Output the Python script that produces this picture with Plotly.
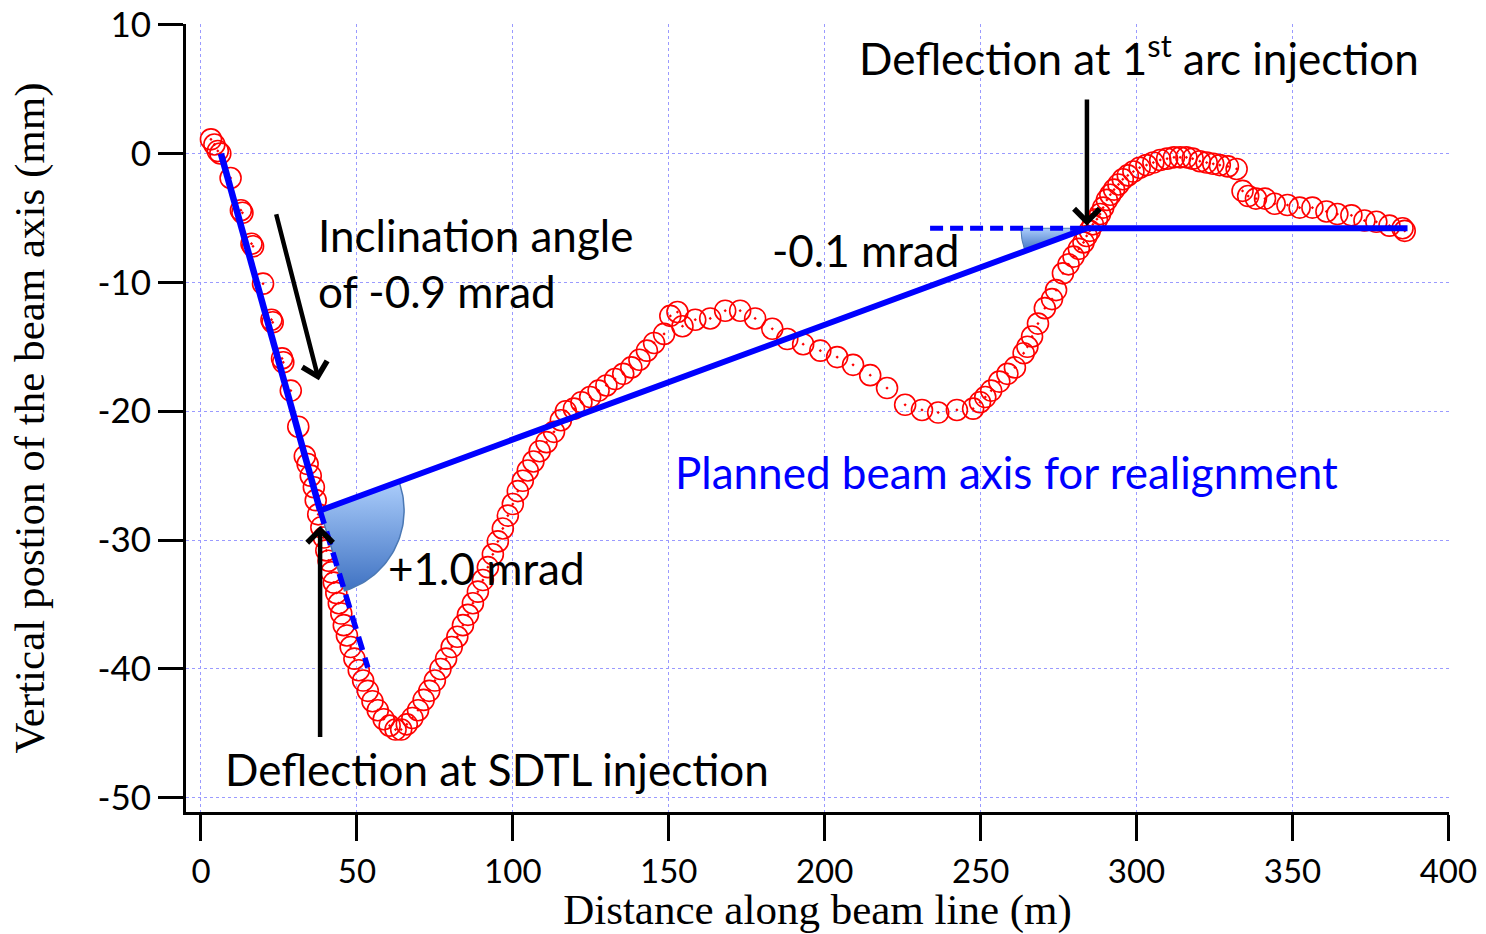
import math
import plotly.graph_objects as go

# ---------------- data ----------------
dist_m = [3.2, 4.3, 5.4, 6.2, 9.5, 12.8, 13.3, 16.2, 16.7, 19.9, 22.6, 23.0, 26.0, 26.4, 28.8,
          31.2, 33.3, 34.2, 35.2, 36.2, 36.8, 37.6, 38.6, 39.4, 40.2, 40.9, 41.8, 42.6, 43.4,
          44.2, 45.0, 45.8, 46.8, 48.0, 49.2, 50.6, 52.0, 53.5, 55.0, 56.7, 58.6, 60.5, 62.4,
          64.2, 66.0, 67.8, 69.6, 71.4, 73.2, 75.0, 76.8, 78.6, 80.4, 82.2, 84.0, 85.6, 87.2,
          88.8, 90.4, 92.0, 93.6, 95.2, 96.8, 98.4, 100.0, 101.6, 103.2, 104.8, 106.6, 108.6,
          110.8, 113.2, 115.4, 117.0, 119.6, 122.0, 124.8, 127.5, 130.0, 132.8, 135.4, 138.0,
          140.6, 143.0, 145.3, 148.5, 150.5, 152.8, 154.4, 158.5, 163.3, 168.1, 172.9, 177.7,
          183.2, 188.0, 193.1, 198.6, 204.0, 209.1, 214.6, 220.0, 225.8, 231.2, 236.4, 242.4,
          247.6, 249.8, 251.5, 253.4, 256.0, 258.6, 261.0, 263.8, 265.0, 266.5, 268.4, 270.6,
          272.9, 274.2, 276.4, 278.2, 279.8, 281.5, 283.0, 284.0, 285.0, 286.0, 287.3, 288.3,
          289.3, 290.5, 291.6, 292.8, 294.2, 295.6, 297.2, 299.0, 301.0, 303.2, 305.4, 307.6,
          309.8, 312.0, 314.0, 316.0, 318.0, 320.3, 322.5, 324.6, 326.7, 329.3, 332.1, 334.0,
          335.8, 338.3, 341.2, 344.3, 348.4, 352.3, 356.4, 360.9, 364.4, 368.9, 373.1, 376.9,
          381.1, 385.3, 386.0]
vert_mm = [1.1, 0.7, 0.2, 0.0, -1.9, -4.4, -4.6, -7.0, -7.2, -10.1, -12.9, -13.1, -15.9, -16.2, -18.4,
           -21.2, -23.5, -24.1, -25.0, -25.9, -26.9, -28.0, -29.0, -29.8, -30.8, -31.6, -32.5, -33.3, -34.1,
           -34.9, -35.7, -36.6, -37.4, -38.3, -39.2, -40.1, -40.9, -41.7, -42.5, -43.2, -43.9, -44.4, -44.7,
           -44.7, -44.3, -43.8, -43.2, -42.4, -41.7, -40.9, -40.0, -39.2, -38.3, -37.5, -36.6, -35.8, -34.9,
           -34.0, -33.1, -32.1, -31.1, -30.1, -29.1, -28.1, -27.2, -26.2, -25.4, -24.6, -23.9, -23.1,
           -22.4, -21.6, -20.7, -20.0, -19.8, -19.3, -18.9, -18.4, -18.0, -17.5, -17.1, -16.6,
           -16.0, -15.3, -14.7, -14.0, -12.6, -12.3, -13.4, -12.9, -12.8, -12.2, -12.2, -12.8,
           -13.6, -14.4, -14.8, -15.3, -15.8, -16.4, -17.2, -18.2, -19.5, -19.9, -20.1, -19.9,
           -19.8, -19.3, -18.9, -18.4, -17.7, -17.1, -16.6, -15.5, -15.0, -14.2, -13.2, -12.0,
           -11.3, -10.6, -9.3, -8.6, -8.0, -7.4, -6.9, -6.4, -6.0, -5.5, -5.1, -4.7,
           -4.2, -3.6, -3.2, -2.8, -2.4, -2.0, -1.7, -1.4, -1.1, -0.9, -0.7, -0.5,
           -0.4, -0.3, -0.3, -0.3, -0.4, -0.6, -0.7, -0.8, -0.9, -1.0, -1.2, -2.9,
           -3.3, -3.5, -3.5, -3.9, -4.0, -4.2, -4.2, -4.5, -4.7, -4.8, -5.2, -5.3,
           -5.6, -5.8, -6.0]

# blue beam-axis lines
incline_x = [6.4, 38.2]
incline_y = [0.0, -27.7]
ext_x = [38.2, 53.5]
ext_y = [-27.7, -39.9]
planned_x = [38.2, 284.1, 386.9]
planned_y = [-27.7, -5.8, -5.8]
ref_x = [233.8, 284.1]
ref_y = [-5.8, -5.8]

x_ticks = [0, 50, 100, 150, 200, 250, 300, 350, 400]
x_tick_labels = ["0", "50", "100", "150", "200", "250", "300", "350", "400"]
y_ticks = [-50, -40, -30, -20, -10, 0, 10]
y_tick_labels = ["-50", "-40", "-30", "-20", "-10", "0", "10"]

# ---------------- layout constants ----------------
W, H = 1486, 934
ML, MR, MT, MB = 186, 37, 24, 122
XR = [-4.8, 400.2]
YR = [-51.1, 10.05]
SX = (W - ML - MR) / (XR[1] - XR[0])
SY = (H - MT - MB) / (YR[1] - YR[0])

TXT = "Lato"
SERIF = "Liberation Serif"
BLUE = "#0000ff"


def sector(cx, cy, r_px, a0, a1, n=48):
    xs, ys = [cx], [cy]
    for i in range(n + 1):
        a = a0 + (a1 - a0) * i / n
        xs.append(cx + r_px * math.cos(a) / SX)
        ys.append(cy + r_px * math.sin(a) / SY)
    xs.append(cx)
    ys.append(cy)
    return xs, ys


def px_angle(x0, y0, x1, y1):
    return math.atan2((y1 - y0) * SY, (x1 - x0) * SX)


fig = go.Figure()

# measured beam positions
fig.add_trace(go.Scatter(
    x=dist_m, y=vert_mm, mode="markers",
    marker=dict(symbol="circle-open-dot", size=21, color="#ff0000",
                line=dict(width=1.6, color="#ff0000")),
    hoverinfo="skip", showlegend=False))

# angle wedges
grad = dict(type="vertical", colorscale=[[0, "#3f72c2"], [1, "#abcdfb"]])
a_pl = px_angle(planned_x[0], planned_y[0], planned_x[1], planned_y[1])
a_ex = px_angle(ext_x[0], ext_y[0], ext_x[1], ext_y[1])
sx1, sy1 = sector(planned_x[0], planned_y[0], 84, a_pl, a_ex)
fig.add_trace(go.Scatter(x=sx1, y=sy1, mode="lines", fill="toself",
                         fillgradient=grad,
                         line=dict(color="#4a78b4", width=1.5),
                         hoverinfo="skip", showlegend=False))
a_back = px_angle(planned_x[1], planned_y[1], planned_x[0], planned_y[0])
if a_back < 0:
    a_back += 2 * math.pi
sx2, sy2 = sector(planned_x[1], planned_y[1], 66, math.pi, a_back)
fig.add_trace(go.Scatter(x=sx2, y=sy2, mode="lines", fill="toself",
                         fillgradient=grad,
                         line=dict(color="#4a78b4", width=1),
                         hoverinfo="skip", showlegend=False))

# blue lines
fig.add_trace(go.Scatter(x=incline_x, y=incline_y, mode="lines",
                         line=dict(color=BLUE, width=6.5), hoverinfo="skip", showlegend=False))
fig.add_trace(go.Scatter(x=ext_x, y=ext_y, mode="lines",
                         line=dict(color=BLUE, width=5.5, dash="14px,8px"),
                         hoverinfo="skip", showlegend=False))
fig.add_trace(go.Scatter(x=planned_x, y=planned_y, mode="lines",
                         line=dict(color=BLUE, width=6), hoverinfo="skip", showlegend=False))
fig.add_trace(go.Scatter(x=ref_x, y=ref_y, mode="lines",
                         line=dict(color=BLUE, width=5, dash="13px,7px"),
                         hoverinfo="skip", showlegend=False))

# arrows
arrows = [
    (37.8, -17.6, 24.0, -4.6),
    (38.2, -28.9, 38.2, -45.4),
    (284.1, -5.6, 284.1, 4.3),
]
for hx, hy, tx, ty in arrows:
    fig.add_annotation(x=hx, y=hy, ax=tx, ay=ty, xref="x", yref="y", axref="x", ayref="y",
                       showarrow=True, arrowhead=4, arrowsize=1.1, arrowwidth=4.5,
                       arrowcolor="#000000", text="")

# texts
texts = [
    ("Inclination angle", 36.8, -6.3, "#000000"),
    ("of -0.9 mrad", 36.8, -10.7, "#000000"),
    ("-0.1 mrad", 182.5, -7.5, "#000000"),
    ("+1.0 mrad", 59.2, -32.2, "#000000"),
    ("Planned beam axis for realignment", 151.5, -24.7, BLUE),
    ("Deflection at SDTL injection", 7.0, -47.8, "#000000"),
    ("Deflection at 1<sup>st</sup> arc injection", 210.4, 7.6, "#000000"),
]
for t, x, y, c in texts:
    fig.add_annotation(x=x, y=y, xref="x", yref="y", text=t, showarrow=False,
                       xanchor="left", yanchor="middle",
                       font=dict(family=TXT, size=44, color=c))

axis_common = dict(showline=True, linecolor="#000000", linewidth=3,
                   ticks="outside", tickcolor="#000000", tickwidth=2.5,
                   showgrid=True, gridcolor="#9a9aff", gridwidth=1, griddash="3px,3px",
                   zeroline=False, automargin=False)

fig.update_layout(
    width=W, height=H,
    margin=dict(l=ML, r=MR, t=MT, b=MB),
    paper_bgcolor="#ffffff", plot_bgcolor="#ffffff",
    showlegend=False,
    xaxis=dict(range=XR, tickvals=x_ticks, ticktext=x_tick_labels, ticklen=26,
               ticklabelstandoff=2,
               tickfont=dict(family=TXT, size=33, color="#000000"),
               title=dict(text="Distance along beam line (m)", standoff=2,
                          font=dict(family=SERIF, size=43, color="#000000")),
               **axis_common),
    yaxis=dict(range=YR, tickvals=y_ticks, ticklabelstandoff=0, ticktext=y_tick_labels,
               ticklen=25,
               tickfont=dict(family=TXT, size=35, color="#000000"),
               title=dict(text="Vertical postion of the beam axis (mm)", standoff=40,
                          font=dict(family=SERIF, size=43, color="#000000")),
               **axis_common),
)

fig.write_html("out.html")
